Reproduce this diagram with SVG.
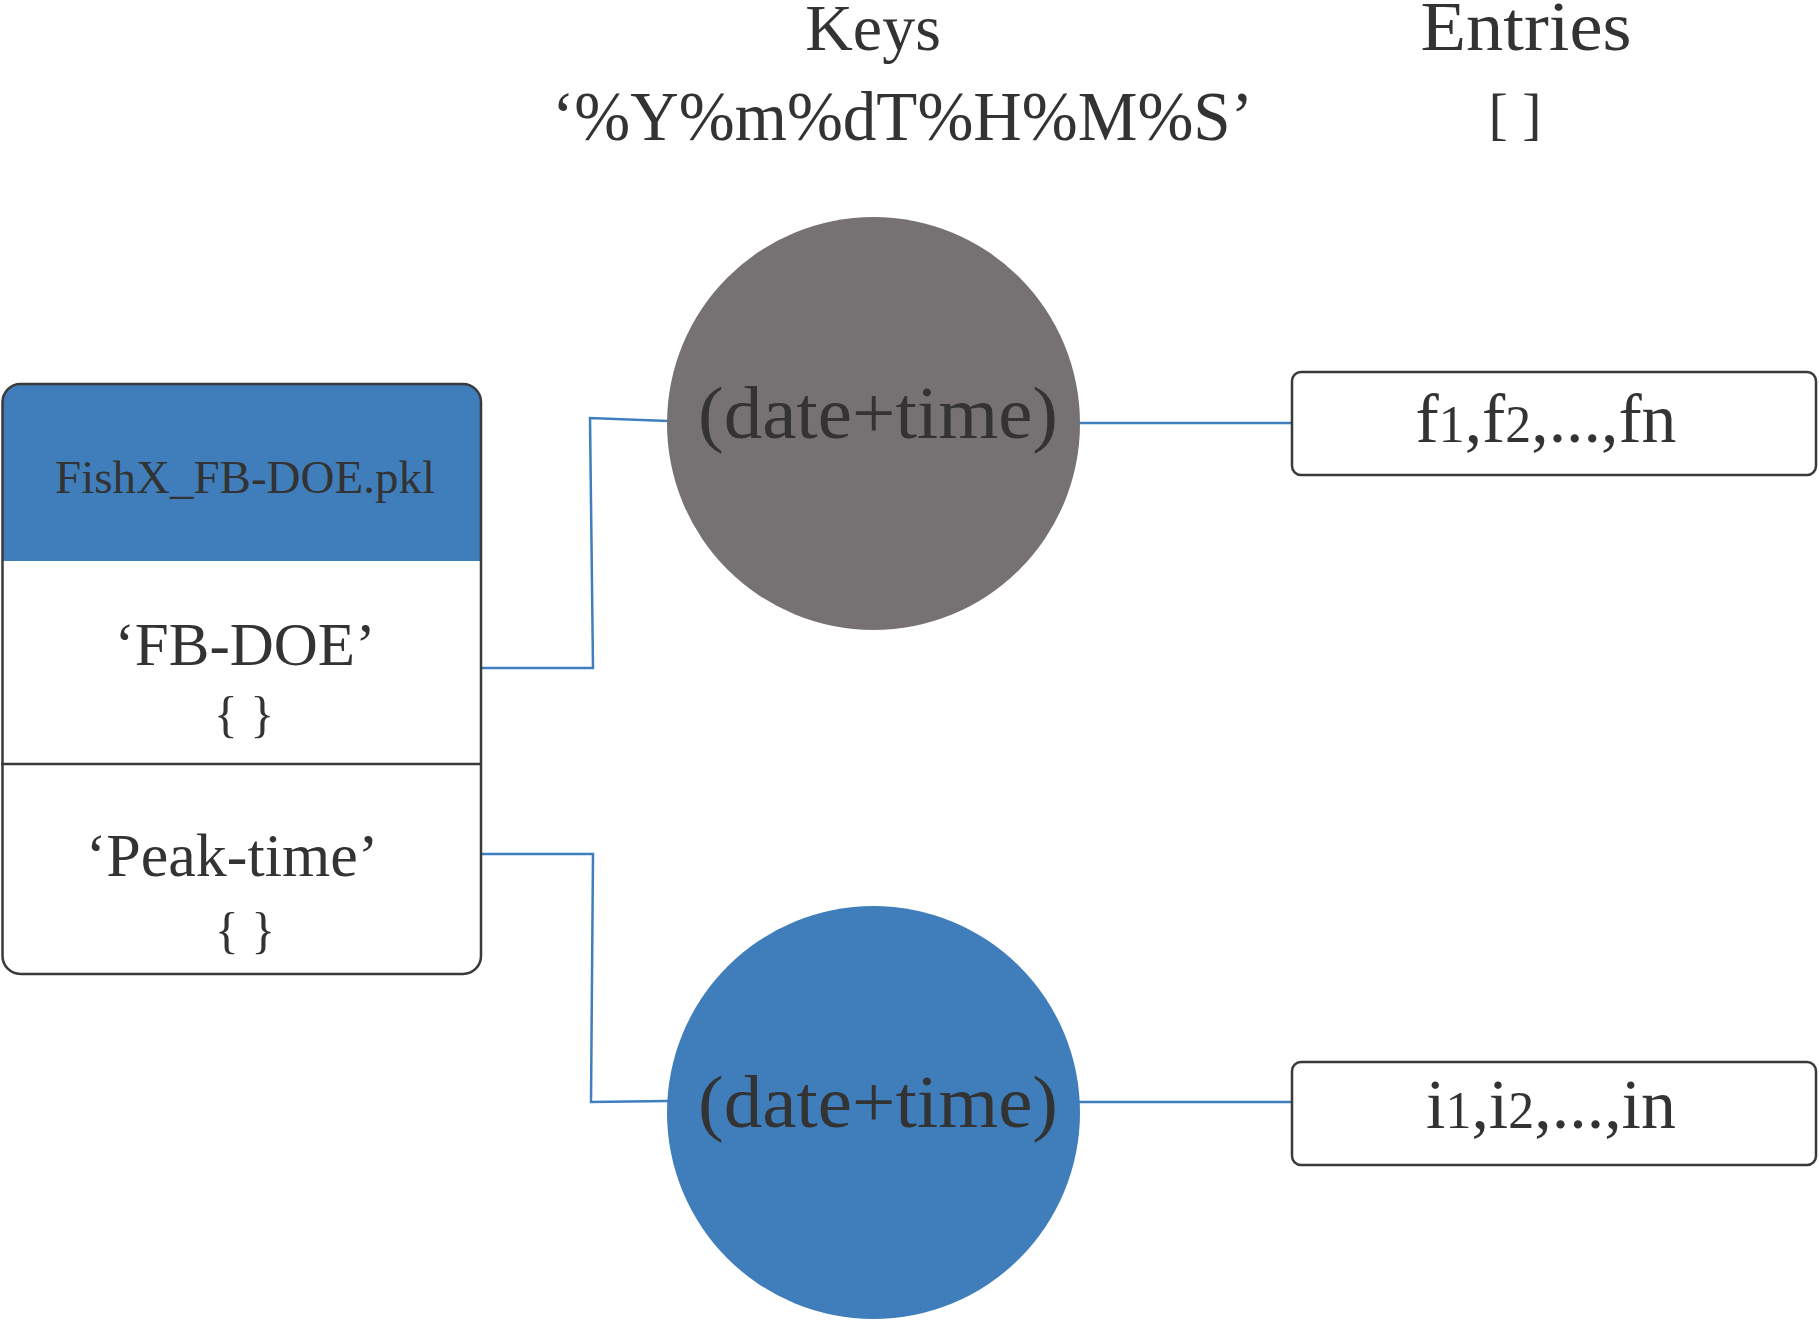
<svg xmlns="http://www.w3.org/2000/svg" width="1819" height="1320" viewBox="0 0 1819 1320">
<style>
text{font-family:"Liberation Serif","DejaVu Serif",serif;fill:#333333;text-anchor:middle}
.conn{fill:none;stroke:#3F7FBF;stroke-width:2.5}
.box{fill:none;stroke:#3a3a3a;stroke-width:2.5}
.small{font-size:52px}
</style>
<rect width="1819" height="1320" fill="#ffffff"/>
<g id="headers">
<text x="873" y="50" font-size="66">Keys</text>
<text x="902.5" y="140" font-size="70" textLength="701" lengthAdjust="spacingAndGlyphs">‘%Y%m%dT%H%M%S’</text>
<text x="1526" y="50" font-size="70" textLength="211" lengthAdjust="spacingAndGlyphs">Entries</text>
<text x="1515" y="133" font-size="58" xml:space="preserve">[ ]</text>
</g>
<g id="connectors">
<polyline class="conn" points="481,668 593,668 590,418 668,421"/>
<polyline class="conn" points="481,854 593,854 591,1102 668,1101"/>
<line class="conn" x1="1078" y1="423" x2="1292" y2="423"/>
<line class="conn" x1="1078" y1="1102" x2="1292" y2="1102"/>
</g>
<g id="file-node">
<path d="M2.5,561 L2.5,402 A18,18 0 0 1 20.5,384 L463,384 A18,18 0 0 1 481,402 L481,561 Z" fill="#3F7EBB"/>
<rect class="box" x="2.5" y="384" width="478.5" height="590" rx="18" ry="18"/>
<line x1="1" y1="764" x2="481" y2="764" stroke="#3a3a3a" stroke-width="2.5"/>
<text x="245" y="493" font-size="47">FishX_FB-DOE.pkl</text>
<text x="245" y="665" font-size="61">‘FB-DOE’</text>
<text x="244" y="731" font-size="50" xml:space="preserve">{ }</text>
<text x="232" y="876" font-size="62">‘Peak-time’</text>
<text x="245" y="947" font-size="50" xml:space="preserve">{ }</text>
</g>
<g id="key-circle-1">
<circle cx="873.5" cy="423.5" r="206.5" fill="#767273"/>
<text x="878" y="438" font-size="74" textLength="360" lengthAdjust="spacingAndGlyphs">(date+time)</text>
</g>
<g id="key-circle-2">
<circle cx="873.5" cy="1112.5" r="206.5" fill="#3F7EBB"/>
<text x="878" y="1127" font-size="74" textLength="360" lengthAdjust="spacingAndGlyphs">(date+time)</text>
</g>
<g id="entries-1">
<rect class="box" x="1292" y="372" width="524" height="103" rx="9" ry="9"/>
<text x="1546" y="442" font-size="70" textLength="261" lengthAdjust="spacingAndGlyphs">f<tspan class="small">1</tspan>,f<tspan class="small">2</tspan>,...,fn</text>
</g>
<g id="entries-2">
<rect class="box" x="1292" y="1062" width="524" height="103" rx="9" ry="9"/>
<text x="1551" y="1128" font-size="70" textLength="250" lengthAdjust="spacingAndGlyphs">i<tspan class="small">1</tspan>,i<tspan class="small">2</tspan>,...,in</text>
</g>
</svg>
